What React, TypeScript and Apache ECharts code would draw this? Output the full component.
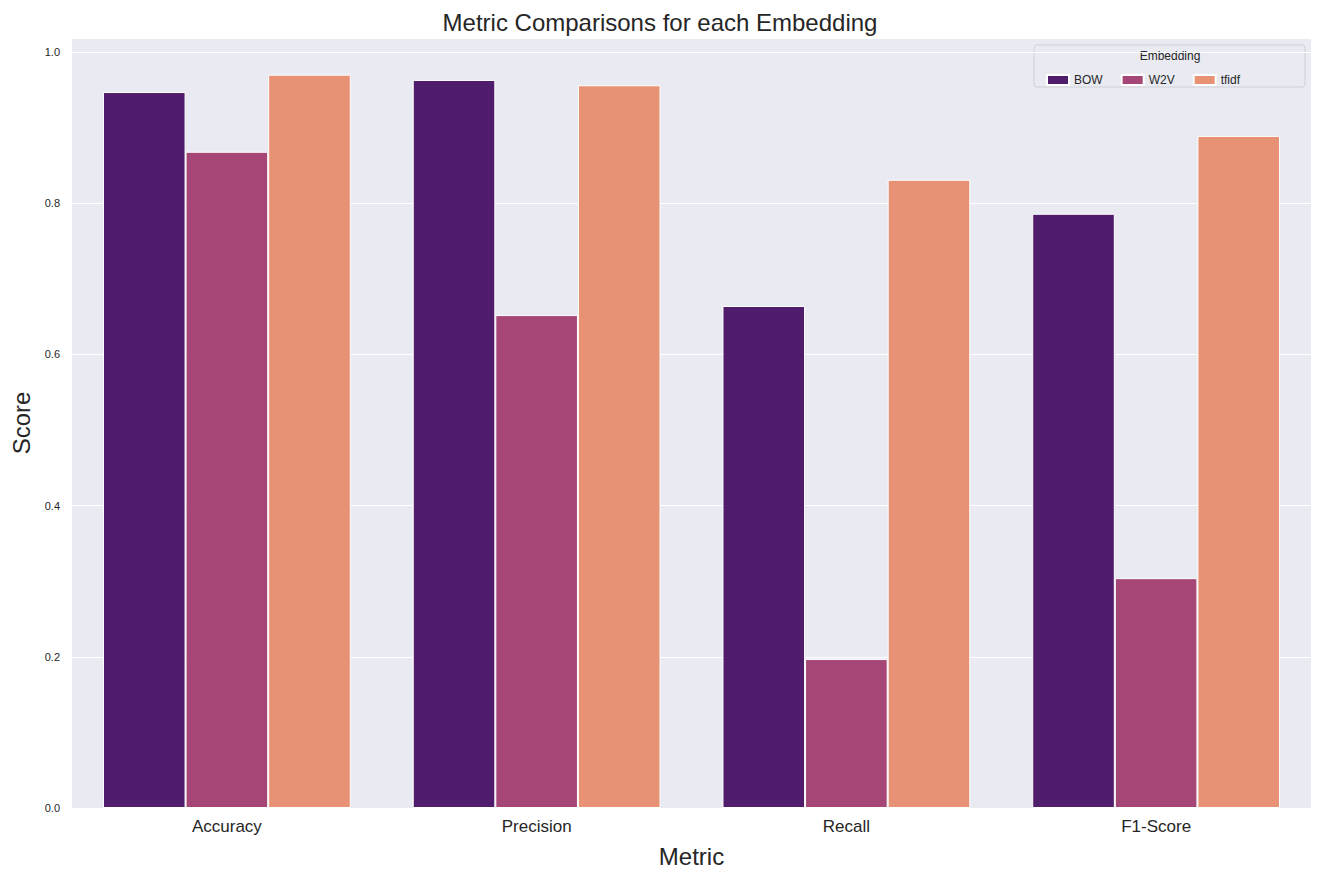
import { useEffect, useRef } from 'react';
import * as echarts from 'echarts';

const metrics = ['Accuracy', 'Precision', 'Recall', 'F1-Score'];
const bow = [0.947, 0.963, 0.664, 0.786];
const w2v = [0.868, 0.652, 0.197, 0.304];
const tfidf = [0.970, 0.956, 0.831, 0.889];
const yTicks = [0, 0.2, 0.4, 0.6, 0.8, 1.0];

const font = 'Arial, "Liberation Sans", sans-serif';

export default function App() {
  const ref = useRef<HTMLDivElement>(null);

  useEffect(() => {
    if (!ref.current) return;
    const chart = echarts.init(ref.current, undefined, { renderer: 'svg' });
    const mk = (name: string, data: number[], color: string) => ({
      name,
      type: 'bar',
      data,
      itemStyle: { color, borderColor: '#ffffff', borderWidth: 1 },
      barGap: '0%',
      barCategoryGap: '20%',
    });
    chart.setOption({
      animation: false,
      textStyle: { fontFamily: font },
      title: {
        text: 'Metric Comparisons for each Embedding',
        left: 'center',
        top: 5,
        textStyle: { fontSize: 24, fontWeight: 'normal', color: '#262626', fontFamily: font },
      },
      grid: { left: 72, right: 9, top: 38, bottom: 70, backgroundColor: '#EAEAF2', show: true, borderWidth: 0 },
      legend: {
        left: 1041,
        top: 69,
        itemWidth: 22,
        itemHeight: 10,
        itemGap: 18,
        icon: 'rect',
        textStyle: { fontSize: 12, color: '#262626', width: 52 },
        data: ['BOW', 'W2V', 'tfidf'],
      },
      graphic: [
        {
          type: 'rect',
          shape: { x: 1034, y: 45, width: 271, height: 42, r: 3 },
          style: { fill: 'rgba(234,234,242,0.8)', stroke: '#d0d0d8', lineWidth: 1 },
          z: 0,
        },
        {
          type: 'text',
          x: 1170,
          y: 50,
          style: { text: 'Embedding', fontSize: 12, fill: '#262626', textAlign: 'center', fontFamily: font },
        },
      ],
      xAxis: {
        type: 'category',
        data: metrics,
        name: 'Metric',
        nameLocation: 'middle',
        nameGap: 36,
        nameTextStyle: { fontSize: 24, color: '#262626' },
        axisLine: { show: false },
        axisTick: { show: false },
        axisLabel: { fontSize: 17, color: '#262626', margin: 10 },
      },
      yAxis: {
        type: 'value',
        min: 0,
        max: 1.0185,
        interval: 0.2,
        name: 'Score',
        nameLocation: 'middle',
        nameGap: 38,
        nameTextStyle: { fontSize: 24, color: '#262626' },
        axisLine: { show: false },
        axisTick: { show: false },
        splitLine: { lineStyle: { color: '#ffffff', width: 1 } },
        axisLabel: {
          fontSize: 11,
          color: '#262626',
          margin: 12,
          showMaxLabel: false,
          formatter: (v: number) => (yTicks.some((t) => Math.abs(t - v) < 1e-6) ? v.toFixed(1) : ''),
        },
      },
      series: [mk('BOW', bow, '#4F1D6B'), mk('W2V', w2v, '#A64676'), mk('tfidf', tfidf, '#E89275')],
    });
    return () => chart.dispose();
  }, []);

  return <div ref={ref} style={{ position: 'absolute', left: 0, top: 0, width: 1320, height: 878 }} />;
}
